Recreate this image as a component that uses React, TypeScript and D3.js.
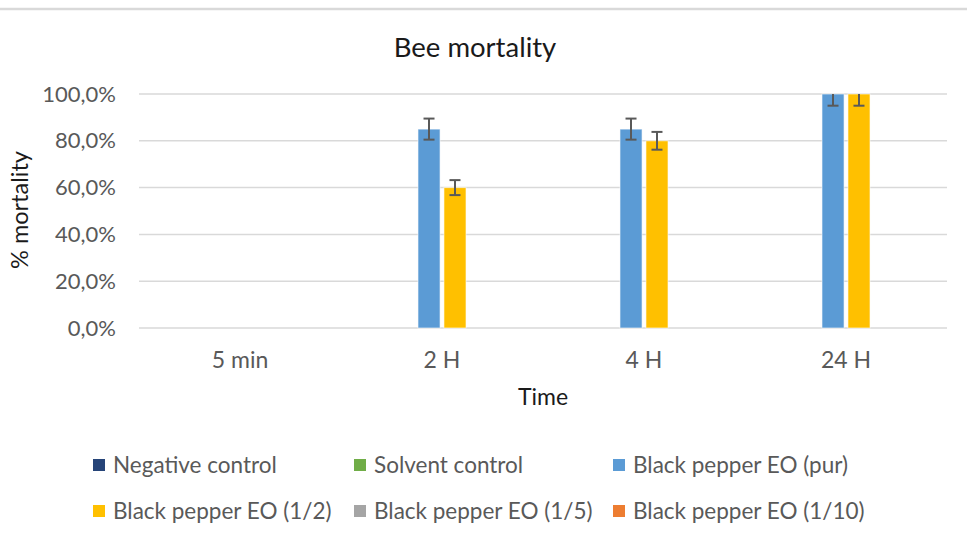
import React from "react";
import * as d3 from "d3";

const categories = ["5 min", "2 H", "4 H", "24 H"];
const seriesNames = [
  "Negative control",
  "Solvent control",
  "Black pepper EO (pur)",
  "Black pepper EO (1/2)",
  "Black pepper EO (1/5)",
  "Black pepper EO (1/10)",
];
const seriesColors = ["#264478", "#70AD47", "#5B9BD5", "#FFC000", "#A5A5A5", "#ED7D31"];
const negativeControl = [0, 0, 0, 0];
const solventControl = [0, 0, 0, 0];
const pepperPur = [0, 0.85, 0.85, 1.0];
const pepperHalf = [0, 0.6, 0.8, 1.0];
const pepperFifth = [0, 0, 0, 0];
const pepperTenth = [0, 0, 0, 0];
const errPur = [0, 0.045, 0.045, 0.05];
const errHalf = [0, 0.032, 0.038, 0.05];
const errZero = [0, 0, 0, 0];
const yTicks = [0, 0.2, 0.4, 0.6, 0.8, 1.0];

const seriesValues = [negativeControl, solventControl, pepperPur, pepperHalf, pepperFifth, pepperTenth];
const seriesErrors = [errZero, errZero, errPur, errHalf, errZero, errZero];

const W = 967;
const H = 541;
const FONT = "Lato, 'Open Sans', sans-serif";
const TXT = "#595959";

export default function App() {
  const x = d3.scaleBand<string>().domain(categories).range([139, 947]).paddingInner(0).paddingOuter(0);
  const bw = x.bandwidth();
  const xs = d3
    .scaleBand<string>()
    .domain(seriesNames)
    .range([bw * 0.124, bw * 0.876])
    .paddingInner(0.15)
    .paddingOuter(0);
  const y = d3.scaleLinear().domain([0, 1]).range([328, 94]);
  const fmt = (v: number) => (v * 100).toFixed(1).replace(".", ",") + "%";

  const legendCols = [93, 354, 613];
  const legendRows = [459, 505];

  return (
    <svg width={W} height={H} style={{ position: "absolute", left: 0, top: 0, background: "#fff" }} fontFamily={FONT}>
      <rect x={0} y={0} width={W} height={H} fill="#fff" />
      <line x1={0} x2={W} y1={9} y2={9} stroke="#D9D9D9" strokeWidth={2.5} />
      <text x={475} y={57} textAnchor="middle" fontSize={27.5} fill="#1a1a1a">
        Bee mortality
      </text>
      {yTicks.map((t) => (
        <g key={t}>
          <line x1={139} x2={947} y1={y(t)} y2={y(t)} stroke="#D9D9D9" strokeWidth={1.5} />
          <text x={116} y={y(t) + 7.5} textAnchor="end" fontSize={22} fill={TXT}>
            {fmt(t)}
          </text>
        </g>
      ))}
      <text
        transform={`translate(28,${210}) rotate(-90)`}
        textAnchor="middle"
        fontSize={23.5}
        fill="#1a1a1a"
      >
        % mortality
      </text>
      {seriesNames.map((s, si) =>
        categories.map((c, ci) => {
          const v = seriesValues[si][ci];
          if (v <= 0) return null;
          const bx = (x(c) as number) + (xs(s) as number);
          return (
            <rect
              key={s + c}
              x={bx}
              y={y(v)}
              width={xs.bandwidth()}
              height={y(0) - y(v)}
              fill={seriesColors[si]}
              stroke="#ffffff"
              strokeOpacity={0.6}
              strokeWidth={1}
            />
          );
        })
      )}
      {seriesNames.map((s, si) =>
        categories.map((c, ci) => {
          const v = seriesValues[si][ci];
          const e = seriesErrors[si][ci];
          if (v <= 0 || e <= 0) return null;
          const cx = (x(c) as number) + (xs(s) as number) + xs.bandwidth() / 2;
          const hiV = Math.min(v + e, 1);
          const clipped = v + e > 1;
          const yHi = y(hiV);
          const yLo = y(v - e);
          return (
            <g key={"e" + s + c} stroke="#595959" strokeWidth={2}>
              <line x1={cx} x2={cx} y1={yHi} y2={yLo} />
              {!clipped && <line x1={cx - 5.5} x2={cx + 5.5} y1={yHi} y2={yHi} />}
              <line x1={cx - 5.5} x2={cx + 5.5} y1={yLo} y2={yLo} />
            </g>
          );
        })
      )}
      {categories.map((c) => (
        <text key={c} x={(x(c) as number) + bw / 2} y={368} textAnchor="middle" fontSize={23} fill={TXT}>
          {c}
        </text>
      ))}
      <text x={543} y={405} textAnchor="middle" fontSize={23} fill="#1a1a1a">
        Time
      </text>
      {seriesNames.map((s, i) => {
        const col = i % 3;
        const row = Math.floor(i / 3);
        const lx = legendCols[col];
        const ly = legendRows[row];
        return (
          <g key={"l" + s}>
            <rect x={lx} y={ly} width={12} height={12} fill={seriesColors[i]} />
            <text x={lx + 20} y={ly + 14} fontSize={22.5} fill={TXT}>
              {s}
            </text>
          </g>
        );
      })}
    </svg>
  );
}
